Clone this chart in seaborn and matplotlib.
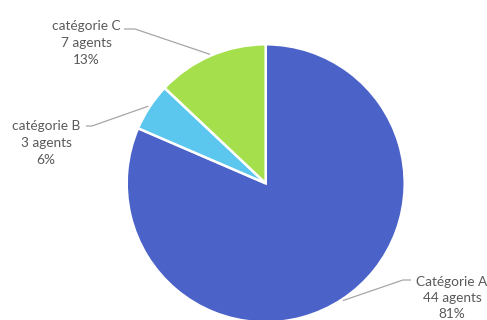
import numpy as np
import matplotlib
matplotlib.use("Agg")
import matplotlib.pyplot as plt
import seaborn as sns

# Répartition des agents par catégorie
categories = ["Catégorie A", "catégorie B", "catégorie C"]
agents = [44, 3, 7]
percent_labels = ["81%", "6%", "13%"]
colors = ["#4B63C9", "#5BC6EE", "#A5E04C"]

sns.set_theme(style="white")
plt.rcParams["font.family"] = ["Lato", "DejaVu Sans"]

W, H = 487, 320
fig = plt.figure(figsize=(W / 100, H / 100), dpi=100)
fig.patch.set_facecolor("white")

# pie centre and radius in pixels
cx, cy, R = 265.7, 320 - 183.3, 139.0
ax = fig.add_axes([(cx - R) / W, (cy - R) / H, 2 * R / W, 2 * R / H])
ax.set_aspect("equal")
ax.axis("off")

wedges, _ = ax.pie(agents, colors=colors, startangle=90, counterclock=False,
                   radius=1.0, wedgeprops=dict(edgecolor="white", linewidth=1.8),
                   center=(0, 0))
ax.set_xlim(-1, 1)
ax.set_ylim(-1, 1)


def px(x, y):
    """pixel position (top-left origin) -> pie data units"""
    return (x - 265.7) / R, (183.3 - y) / R


# label block centre, horizontal-segment start, elbow (pixels)
label_layout = {
    "Catégorie A": dict(text=(452, 298), start=(411, 280), elbow=(403, 280)),
    "catégorie B": dict(text=(46, 143), start=(86, 126), elbow=(92, 126)),
    "catégorie C": dict(text=(86, 43), start=(124, 29), elbow=(135, 29)),
}

line_color = "#A6A6A6"
text_color = "#595959"
for w, cat, n, pct in zip(wedges, categories, agents, percent_labels):
    mid = np.deg2rad((w.theta1 + w.theta2) / 2)
    tip = (1.01 * np.cos(mid), 1.01 * np.sin(mid))
    lay = label_layout[cat]
    sx, sy = px(*lay["start"])
    ex, ey = px(*lay["elbow"])
    ax.plot([sx, ex, tip[0]], [sy, ey, tip[1]], color=line_color, lw=0.9,
            clip_on=False, solid_capstyle="butt")
    tx, ty = px(*lay["text"])
    ax.text(tx, ty, f"{cat}\n{n} agents\n{pct}", ha="center", va="center",
            fontsize=9.8, color=text_color, linespacing=1.45, clip_on=False)

fig.savefig("out.png", dpi=100, facecolor="white")
